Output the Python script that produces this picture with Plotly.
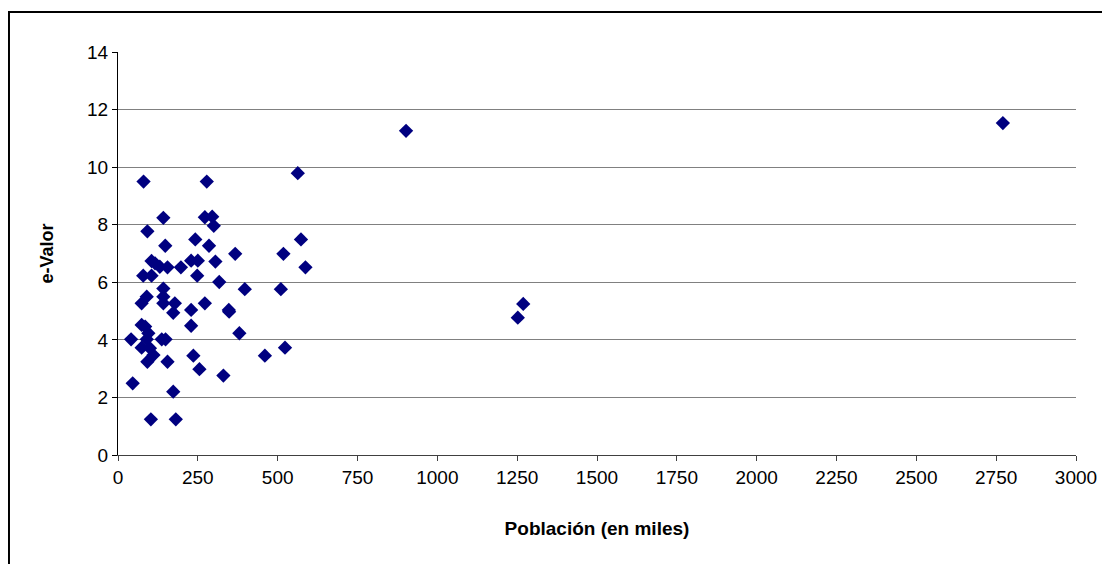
import plotly.graph_objects as go

poblacion = [80, 278, 563, 142, 272, 295, 300, 92, 242, 573, 148, 285, 367, 518,
             105, 116, 131, 155, 197, 229, 250, 305, 587, 79, 105, 248, 317, 397,
             510, 142, 142, 90, 74, 142, 178, 229, 272, 347, 173, 348, 74, 85, 95,
             229, 380, 41, 90, 137, 149, 74, 100, 523, 460, 111, 236, 92, 155, 255,
             330, 46, 173, 103, 181, 902, 2771, 1269, 1252]
e_valor = [9.5, 9.5, 9.79, 8.24, 8.26, 8.28, 7.96, 7.77, 7.49, 7.49, 7.27, 7.27, 6.99, 6.99,
           6.74, 6.66, 6.54, 6.52, 6.52, 6.75, 6.75, 6.72, 6.52, 6.23, 6.23, 6.23, 6.01, 5.76,
           5.76, 5.78, 5.5, 5.5, 5.27, 5.27, 5.27, 5.04, 5.27, 5.04, 4.94, 4.98, 4.52, 4.46, 4.23,
           4.49, 4.23, 4.02, 4.02, 4.02, 4.02, 3.73, 3.71, 3.73, 3.45, 3.47, 3.45, 3.24, 3.24, 2.98,
           2.76, 2.49, 2.2, 1.24, 1.24, 11.26, 11.53, 5.25, 4.77]

x_ticks = list(range(0, 3001, 250))
y_ticks = list(range(0, 15, 2))

fig = go.Figure()
fig.add_trace(go.Scatter(
    x=poblacion, y=e_valor, mode="markers",
    marker=dict(symbol="diamond", size=11, color="#000080",
                line=dict(width=0)),
    showlegend=False, hoverinfo="x+y"))

font_family = "Liberation Sans, Arial, sans-serif"

fig.update_layout(
    width=1102, height=556,
    margin=dict(l=110, r=34, t=44, b=109),
    paper_bgcolor="white", plot_bgcolor="white",
    font=dict(family=font_family, color="black", size=19),
    xaxis=dict(range=[0, 3000], tickvals=x_ticks, ticktext=[str(v) for v in x_ticks],
               showgrid=False, zeroline=False, showline=True, linecolor="#404040",
               linewidth=1, ticks="outside", ticklen=5, tickcolor="#404040",
               tickfont=dict(size=19),
               title=dict(text="<b>Población (en miles)</b>", font=dict(size=19), standoff=34)),
    yaxis=dict(range=[0, 14], tickvals=y_ticks, ticktext=[str(v) for v in y_ticks],
               showgrid=True, gridcolor="#808080", gridwidth=1, zeroline=False,
               showline=True, linecolor="black", linewidth=1,
               ticks="outside", ticklen=5, tickcolor="black",
               tickfont=dict(size=19),
               title=dict(text="<b>e-Valor</b>", font=dict(size=18), standoff=28)),
    shapes=[dict(type="rect", xref="paper", yref="paper",
                 x0=-0.1138, x1=1.0334, y0=-0.285, y1=1.099,
                 line=dict(color="black", width=2), fillcolor="rgba(0,0,0,0)", layer="below")],
)

fig.write_html("out.html")
